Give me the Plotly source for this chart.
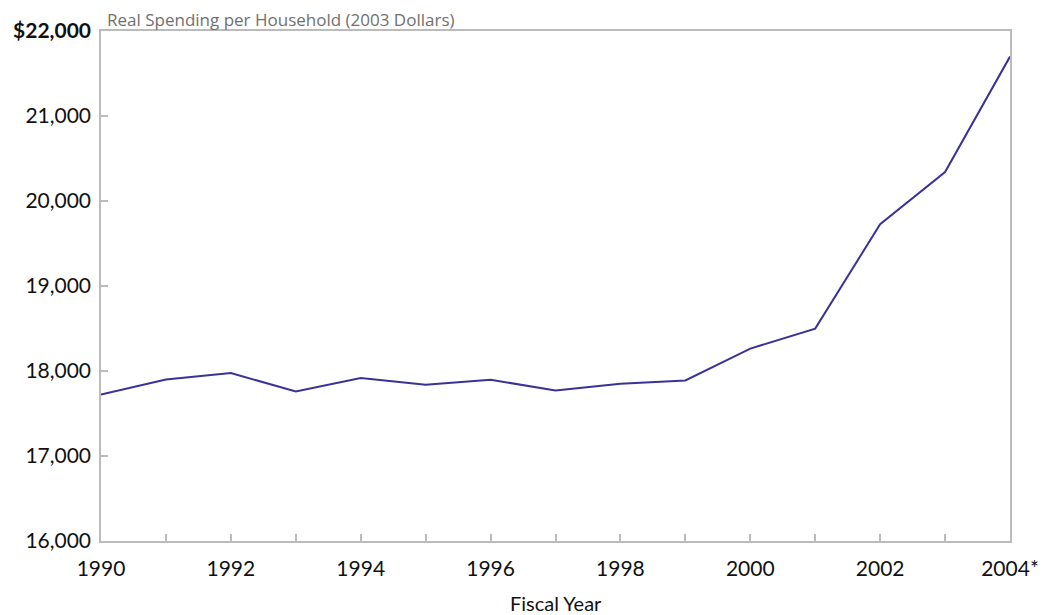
import plotly.graph_objects as go

years = list(range(1990, 2005))
spending = [17724, 17901, 17976, 17759, 17917, 17838, 17897, 17771, 17850, 17889,
            18263, 18499, 19727, 20341, 21699]

x_tickvals = years
x_ticktext = ["1990", "", "1992", "", "1994", "", "1996", "", "1998", "", "2000", "", "2002", "", "2004*"]
y_tickvals = [16000, 17000, 18000, 19000, 20000, 21000, 22000]
y_ticktext = ["16,000", "17,000", "18,000", "19,000", "20,000", "21,000", "<b>$22,000</b>"]

font_family = "Lato, 'Open Sans', sans-serif"
title_family = "'Open Sans', Lato, sans-serif"

fig = go.Figure()
fig.add_trace(go.Scatter(
    x=years, y=spending, mode="lines",
    line=dict(color="#3b3299", width=2),
    showlegend=False, hoverinfo="skip",
))

fig.update_layout(
    width=1047, height=615,
    margin=dict(l=93, r=45, t=23, b=82, autoexpand=False),
    paper_bgcolor="white", plot_bgcolor="white",
    font=dict(family=font_family, color="#111111", size=21),
    xaxis=dict(
        range=[1990, 2004], tickvals=x_tickvals, ticktext=x_ticktext,
        ticks="inside", ticklen=7, tickcolor="#bbbbbb", tickwidth=1.5,
        showline=True, linecolor="#bbbbbb", linewidth=1.5, mirror=True,
        showgrid=False, zeroline=False, ticklabelstandoff=8,
        tickfont=dict(size=21, color="#111111", family=font_family),
    ),
    yaxis=dict(
        range=[16000, 22000], tickvals=y_tickvals, ticktext=y_ticktext,
        ticks="inside", ticklen=7, tickcolor="#bbbbbb", tickwidth=1.5,
        showline=True, linecolor="#bbbbbb", linewidth=1.5, mirror=True,
        showgrid=False, zeroline=False, ticklabelstandoff=4,
        tickfont=dict(size=21, color="#111111", family=font_family),
    ),
    annotations=[
        dict(text="Real Spending per Household (2003 Dollars)", xref="paper", yref="paper",
             x=0.006, y=1.022, xanchor="left", yanchor="middle", showarrow=False,
             borderpad=0,
             font=dict(size=17, color="#707070", family=title_family)),
        dict(text="Fiscal Year", xref="paper", yref="paper",
             x=0.50, y=-0.095, xanchor="center", yanchor="top", showarrow=False,
             font=dict(size=20, color="#111111", family=font_family)),
    ],
)

fig.write_html("out.html")
